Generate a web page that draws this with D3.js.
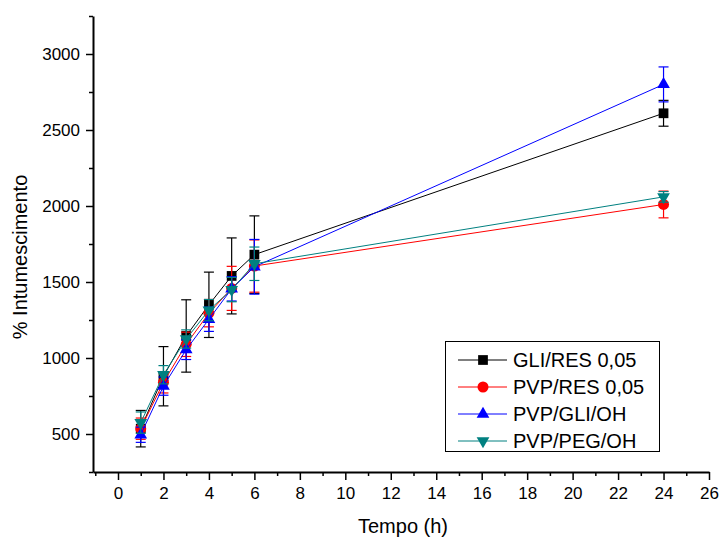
<!DOCTYPE html>
<html>
<head>
<meta charset="utf-8">
<script src="https://cdn.jsdelivr.net/npm/d3@7"></script>
<style>
  body { margin: 0; background: #fff; }
  svg text { font-family: "Liberation Sans", Arial, sans-serif; }
</style>
</head>
<body>
<script>
const times = [1, 2, 3, 4, 5, 6, 24];

const seriesNames = ['GLI/RES 0,05', 'PVP/RES 0,05', 'PVP/GLI/OH', 'PVP/PEG/OH'];
const seriesColors = ['#000000', '#ff0000', '#0000ff', '#008080'];

const gliRes = [535, 880, 1145, 1350, 1540, 1680, 2610];
const gliResErr = [120, 195, 238, 215, 250, 255, 85];
const pvpRes = [535, 840, 1090, 1295, 1458, 1605, 2010];
const pvpResErr = [70, 70, 80, 90, 145, 172, 88];
const pvpGli = [495, 815, 1055, 1255, 1455, 1600, 2800];
const pvpGliErr = [50, 60, 65, 80, 80, 180, 115];
const pvpPeg = [575, 890, 1125, 1315, 1450, 1620, 2060];
const pvpPegErr = [70, 60, 60, 70, 80, 110, 35];

const xTicks = [0, 2, 4, 6, 8, 10, 12, 14, 16, 18, 20, 22, 24, 26];
const xMinor = [-1, 1, 3, 5, 7, 9, 11, 13, 15, 17, 19, 21, 23, 25];
const yTicks = [500, 1000, 1500, 2000, 2500, 3000];
const yMinor = [250, 750, 1250, 1750, 2250, 2750, 3250];

const seriesValues = [gliRes, pvpRes, pvpGli, pvpPeg];
const seriesErrors = [gliResErr, pvpResErr, pvpGliErr, pvpPegErr];
const symbolTypes = [d3.symbolSquare, d3.symbolCircle, d3.symbolTriangle, d3.symbolTriangle];
const symbolSizes = [95, 95, 70, 70];
const symbolRotate = [0, 0, 0, 180];

const width = 720, height = 539;
const svg = d3.select('body').append('svg')
  .attr('width', width)
  .attr('height', height);

const x = d3.scaleLinear().domain([-1.1, 26]).range([93, 709]);
const y = d3.scaleLinear().domain([250, 3250]).range([472, 16]);

// minor ticks
svg.append('g')
  .attr('transform', `translate(0,${y(250)})`)
  .call(d3.axisBottom(x).tickValues(xMinor).tickSize(4).tickFormat(''))
  .call(g => g.select('.domain').remove())
  .call(g => g.selectAll('line').attr('stroke-width', 1.5));

svg.append('g')
  .attr('transform', `translate(${x(-1.1)},0)`)
  .call(d3.axisLeft(y).tickValues(yMinor).tickSize(4).tickFormat(''))
  .call(g => g.select('.domain').remove())
  .call(g => g.selectAll('line').attr('stroke-width', 1.5));

// X axis
svg.append('g')
  .attr('transform', `translate(0,${y(250)})`)
  .attr('font-family', null)
  .call(d3.axisBottom(x).tickValues(xTicks).tickSize(8).tickPadding(7).tickSizeOuter(0).tickFormat(d3.format('d')))
  .call(g => g.select('.domain').attr('stroke-width', 2))
  .call(g => g.selectAll('line').attr('stroke-width', 1.5))
  .call(g => g.selectAll('text').attr('font-size', '17px'));

// Y axis
svg.append('g')
  .attr('transform', `translate(${x(-1.1)},0)`)
  .call(d3.axisLeft(y).tickValues(yTicks).tickSize(7).tickPadding(6).tickSizeOuter(0).tickFormat(d3.format('d')))
  .call(g => g.select('.domain').attr('stroke-width', 2))
  .call(g => g.selectAll('line').attr('stroke-width', 1.5))
  .call(g => g.selectAll('text').attr('font-size', '17px'));

// Axis labels
svg.append('text')
  .attr('x', 403)
  .attr('y', 533)
  .attr('text-anchor', 'middle')
  .attr('font-size', '20px')
  .text('Tempo (h)');

svg.append('text')
  .attr('transform', 'translate(27,257) rotate(-90)')
  .attr('text-anchor', 'middle')
  .attr('font-size', '20px')
  .text('% Intumescimento');

const line = d3.line()
  .x((d, i) => x(times[i]))
  .y(d => y(d));

seriesValues.forEach((vals, s) => {
  const color = seriesColors[s];
  const errs = seriesErrors[s];
  const g = svg.append('g');

  g.append('path')
    .datum(vals)
    .attr('fill', 'none')
    .attr('stroke', color)
    .attr('stroke-width', 1)
    .attr('d', line);

  // error bars
  const eb = g.selectAll('g.err')
    .data(vals)
    .enter()
    .append('g')
    .attr('class', 'err')
    .attr('stroke', color)
    .attr('stroke-width', 1.2);

  eb.append('line')
    .attr('x1', (d, i) => x(times[i]))
    .attr('x2', (d, i) => x(times[i]))
    .attr('y1', (d, i) => y(d - errs[i]))
    .attr('y2', (d, i) => y(d + errs[i]));

  eb.append('line')
    .attr('x1', (d, i) => x(times[i]) - 5)
    .attr('x2', (d, i) => x(times[i]) + 5)
    .attr('y1', (d, i) => y(d + errs[i]))
    .attr('y2', (d, i) => y(d + errs[i]));

  eb.append('line')
    .attr('x1', (d, i) => x(times[i]) - 5)
    .attr('x2', (d, i) => x(times[i]) + 5)
    .attr('y1', (d, i) => y(d - errs[i]))
    .attr('y2', (d, i) => y(d - errs[i]));

  g.selectAll('path.mark')
    .data(vals)
    .enter()
    .append('path')
    .attr('class', 'mark')
    .attr('transform', (d, i) => `translate(${x(times[i])},${y(d)}) rotate(${symbolRotate[s]})`)
    .attr('d', d3.symbol().type(symbolTypes[s]).size(symbolSizes[s]))
    .attr('fill', color);
});

// Legend
const legend = svg.append('g');
legend.append('rect')
  .attr('x', 445.5)
  .attr('y', 341.5)
  .attr('width', 214)
  .attr('height', 110)
  .attr('fill', '#fff')
  .attr('stroke', '#000')
  .attr('stroke-width', 1);

seriesNames.forEach((name, s) => {
  const row = legend.append('g')
    .attr('transform', `translate(0,${360 + s * 27})`);
  row.append('line')
    .attr('x1', 458).attr('x2', 507)
    .attr('y1', 0).attr('y2', 0)
    .attr('stroke', seriesColors[s])
    .attr('stroke-width', 1);
  row.append('path')
    .attr('transform', `translate(483,0) rotate(${symbolRotate[s]})`)
    .attr('d', d3.symbol().type(symbolTypes[s]).size(symbolSizes[s]))
    .attr('fill', seriesColors[s]);
  row.append('text')
    .attr('x', 513)
    .attr('dy', '0.36em')
    .attr('font-size', '20px')
    .text(name);
});
</script>
</body>
</html>
